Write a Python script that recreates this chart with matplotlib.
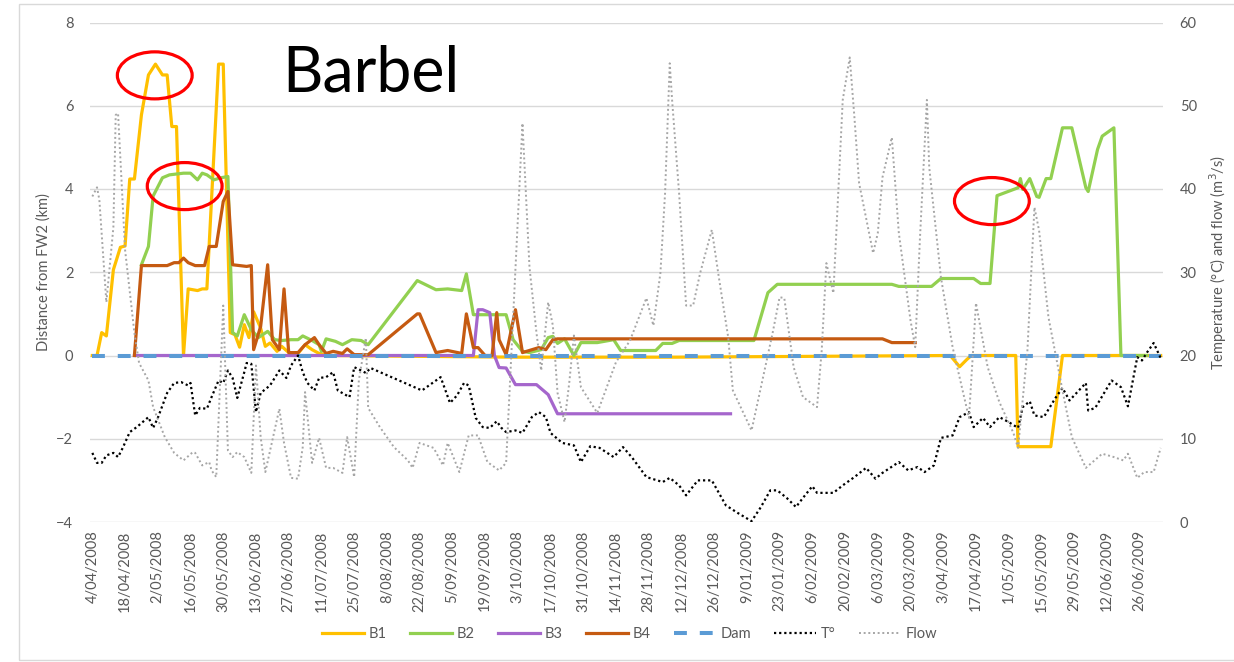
import datetime as dt
import matplotlib
matplotlib.use("Agg")
import matplotlib.pyplot as plt
from matplotlib.patches import Ellipse, Rectangle

plt.rcParams['font.family'] = ['Lato', 'DejaVu Sans']

start = dt.date(2008, 4, 4)  # day 0

# distance from FW2 (km), x = days since 4/04/2008
b1_day = [0, 2, 4, 6, 9, 12, 14, 16, 18, 21, 24, 27, 30, 32, 34, 36, 39, 41, 45, 47, 49,
          54, 56, 59, 61, 63, 65, 67, 69, 72, 74, 76, 79, 81, 84, 88, 91, 94, 97, 102,
          180, 250, 367, 371, 374, 376, 395, 396, 410, 415, 457]
b1_km = [0, 0, 0.55, 0.47, 2.06, 2.6, 2.63, 4.24, 4.24, 5.78, 6.74, 7.0, 6.74, 6.74, 5.5, 5.5, 0, 1.6, 1.56, 1.6, 1.6,
         7.0, 7.0, 0.55, 0.5, 0.2, 0.74, 0.43, 1.05, 0.66, 0.22, 0.3, 0.1, 0.22, 0.07, 0.05, 0.26, 0.14, 0.05, 0,
         -0.04, -0.04, 0, -0.27, -0.1, 0, 0, -2.19, -2.19, 0, 0]

b2_day = [21, 24, 26, 30, 33, 39, 42, 45, 47, 49, 52, 55, 58, 60, 62, 65, 68, 71, 75, 78, 81, 85, 88, 90,
          94, 97, 98, 100, 104, 107, 111, 115, 118, 139, 147, 152, 158, 160, 163, 168, 177, 180, 184,
          187, 192, 195, 197, 199, 202, 206, 209, 216, 223, 226, 241, 244, 248, 251, 283, 289, 293, 342,
          345, 359, 363, 377, 380, 384, 387, 396, 397, 398, 401, 404, 405, 408, 410, 415, 419, 425, 426,
          430, 432, 437, 440, 451]
b2_km = [2.18, 2.62, 3.83, 4.27, 4.34, 4.38, 4.38, 4.22, 4.38, 4.34, 4.22, 4.27, 4.3, 0.55, 0.47, 0.98, 0.62, 0.43,
         0.58, 0.38, 0.36, 0.38, 0.38, 0.47, 0.36, 0.26, 0.1, 0.4, 0.34, 0.26, 0.38, 0.36, 0.26, 1.8, 1.58, 1.6,
         1.56, 1.96, 0.98, 0.98, 0.98, 0.38, 0.1, 0.07, 0.14, 0.43, 0.46, 0.29, 0.4, 0, 0.31, 0.31, 0.38, 0.12,
         0.12, 0.29, 0.29, 0.36, 0.36, 1.51, 1.71, 1.71, 1.66, 1.66, 1.85, 1.85, 1.73, 1.73, 3.84, 4.03, 4.25,
         3.99, 4.25, 3.82, 3.8, 4.25, 4.25, 5.47, 5.47, 4.03, 3.94, 4.95, 5.27, 5.47, 0, 0]

b3_day = [18, 163, 165, 167, 170, 172, 174, 177, 181, 190, 195, 199, 273]
b3_km = [0, 0, 1.1, 1.1, 1.03, 0, -0.29, -0.3, -0.7, -0.7, -0.94, -1.4, -1.4]

b4_day = [18, 21, 32, 35, 37, 39, 41, 44, 48, 50, 53, 56, 58, 60, 66, 68, 69, 72, 75, 77, 80, 82, 84, 88,
          91, 95, 97, 100, 103, 107, 109, 112, 118, 139, 140, 147, 152, 158, 160, 163, 165, 168, 171,
          173, 174, 177, 181, 184, 191, 194, 197, 199, 338, 342, 352]
b4_km = [0, 2.16, 2.16, 2.23, 2.23, 2.34, 2.23, 2.16, 2.16, 2.62, 2.62, 3.7, 3.94, 2.18, 2.14, 2.16, 0.14, 0.7,
         2.18, 0.38, 0.14, 1.6, 0.07, 0.07, 0.26, 0.43, 0.26, 0.05, 0.1, 0.05, 0.16, 0.02, 0.02, 1.0, 1.0,
         0.07, 0.12, 0.05, 1.0, 0.19, 0.19, 0, 0, 1.03, 0.38, 0.02, 1.1, 0.07, 0.19, 0.14, 0.38, 0.4, 0.4,
         0.31, 0.31]

dam_day = [0, 457]
dam_km = [0, 0]

# temperature (°C) and flow (m3/s)
t_day = [0, 2, 4, 6, 9, 11, 13, 16, 19, 24, 26, 28, 32, 35, 38, 41, 42, 44, 46, 49, 51, 54, 56, 58, 60,
         62, 65, 66, 68, 70, 72, 76, 80, 83, 85, 88, 90, 92, 95, 97, 100, 103, 105, 110, 112, 115, 117,
         119, 141, 149, 153, 156, 159, 161, 164, 167, 170, 173, 175, 177, 181, 184, 188, 191, 194, 196,
         201, 206, 209, 213, 217, 223, 227, 231, 237, 244, 247, 251, 254, 259, 265, 271, 276, 282, 286,
         290, 293, 297, 301, 304, 308, 310, 317, 321, 326, 331, 335, 338, 345, 349, 353, 356, 360, 363,
         368, 371, 375, 377, 381, 384, 388, 392, 396, 398, 401, 403, 407, 412, 415, 418, 421, 425, 426,
         429, 436, 440, 443, 447, 449, 451, 454, 457]
t_val = [8.3, 7.1, 7.1, 8.0, 8.3, 7.8, 8.9, 10.8, 11.4, 12.6, 11.3, 12.5, 15.5, 16.7, 16.8, 16.4, 16.7, 12.8,
         13.7, 13.6, 15.0, 17.0, 16.7, 18.2, 17.3, 14.9, 18.0, 19.1, 19.0, 13.2, 15.5, 16.4, 18.2, 17.3, 18.8,
         20.0, 18.0, 16.7, 15.8, 17.3, 17.4, 18.0, 15.8, 15.0, 18.6, 18.2, 17.9, 18.5, 15.8, 17.4, 14.3, 15.2,
         16.7, 16.4, 12.5, 11.4, 11.3, 12.1, 11.3, 10.8, 11.0, 10.7, 12.6, 13.2, 12.6, 10.7, 9.5, 9.2, 7.2,
         9.1, 8.9, 7.8, 9.0, 7.7, 5.4, 4.8, 5.3, 4.4, 3.2, 5.0, 5.0, 2.0, 1.1, 0.1, 1.8, 3.8, 3.8, 2.9, 1.8,
         2.9, 4.3, 3.5, 3.5, 4.4, 5.4, 6.5, 5.2, 5.9, 7.2, 6.2, 6.6, 6.0, 6.8, 10.1, 10.4, 12.6, 13.2, 11.4,
         12.5, 11.4, 12.6, 12.0, 11.3, 13.8, 14.5, 12.8, 12.6, 14.9, 16.1, 14.6, 15.5, 16.7, 13.4, 13.7,
         17.0, 16.2, 13.9, 19.8, 19.4, 20.3, 21.5, 19.7]

flow_day = [0, 2, 3, 6, 9, 10, 11, 14, 18, 20, 24, 26, 31, 35, 39, 43, 44, 47, 50, 51, 53, 56, 58, 60, 62,
            65, 68, 70, 72, 74, 77, 80, 82, 85, 88, 90, 91, 94, 97, 100, 103, 107, 109, 112, 114, 117, 118,
            123, 129, 135, 137, 140, 146, 150, 152, 157, 161, 165, 169, 174, 177, 184, 187, 190, 192, 195,
            197, 199, 202, 204, 206, 209, 216, 224, 230, 237, 240, 243, 245, 247, 248, 251, 254, 257, 260,
            265, 268, 272, 274, 282, 291, 294, 296, 300, 304, 310, 312, 314, 317, 321, 324, 326, 328, 334,
            336, 338, 342, 345, 350, 352, 354, 357, 358, 363, 368, 375, 378, 383, 388, 394, 396, 400, 403,
            405, 409, 415, 419, 425, 432, 437, 441, 443, 447, 450, 454, 457]
flow_val = [39.1, 40.2, 38.7, 26.4, 35.4, 48.9, 49.1, 32.7, 22.7, 19.1, 17.0, 13.8, 10.2, 8.3, 7.4, 8.4, 8.3,
            6.8, 7.2, 6.2, 5.4, 26.0, 8.6, 7.8, 8.4, 7.8, 5.9, 18.8, 10.2, 6.0, 9.8, 13.6, 9.5, 5.3, 5.2, 9.0,
            15.6, 7.1, 10.1, 6.5, 6.5, 5.9, 10.2, 5.4, 17.0, 22.1, 13.7, 11.4, 9.0, 7.4, 6.5, 9.5, 8.9, 6.8,
            9.5, 6.0, 10.4, 10.4, 7.2, 6.2, 7.1, 47.9, 30.6, 22.7, 18.2, 26.4, 23.6, 15.5, 12.0, 16.7, 22.4,
            16.2, 13.1, 19.2, 21.8, 26.9, 23.6, 29.9, 39.5, 55.1, 50.7, 39.5, 26.0, 26.0, 29.9, 35.1, 29.4,
            22.2, 15.8, 11.0, 22.7, 27.0, 26.9, 18.6, 15.0, 13.8, 20.6, 31.1, 27.5, 50.7, 55.8, 48.6, 40.7,
            32.3, 34.7, 41.4, 46.2, 34.7, 24.2, 21.0, 33.9, 50.7, 42.6, 29.4, 21.0, 12.5, 26.3, 18.6, 14.4,
            10.7, 8.9, 20.6, 37.8, 35.0, 24.6, 15.8, 10.2, 6.5, 8.2, 7.8, 7.4, 8.2, 5.3, 6.0, 6.0, 8.9]

tick_days = list(range(0, 449, 14))
tick_labels = []
for d in tick_days:
    day = start + dt.timedelta(days=d)
    tick_labels.append(f"{day.day}/{day.month:02d}/{day.year}")

fig = plt.figure(figsize=(12.34, 6.62), dpi=100)
ax = fig.add_axes([90 / 1234, 1 - 522 / 662, 1073 / 1234, 499.5 / 662])
ax2 = ax.twinx()

fig.patches.append(Rectangle((19 / 1234, 2 / 662), 1.2, 1 - 6 / 662, transform=fig.transFigure,
                             fill=False, edgecolor='#D9D9D9', lw=1))

l1, = ax.plot(b1_day, b1_km, color='#FFC000', lw=2.3, label='B1')
l2, = ax.plot(b2_day, b2_km, color='#92D050', lw=2.3, label='B2')
l3, = ax.plot(b3_day, b3_km, color='#A566CC', lw=2.3, label='B3')
l4, = ax.plot(b4_day, b4_km, color='#C55A11', lw=2.3, label='B4')
l5, = ax.plot(dam_day, dam_km, color='#5B9BD5', lw=2.9, dashes=(3.2, 3.2), label='Dam')
l6, = ax2.plot(t_day, t_val, color='black', lw=1.6, linestyle=(0, (1, 1.3)), label='T°')
l7, = ax2.plot(flow_day, flow_val, color='#A6A6A6', lw=1.4, linestyle=(0, (1, 1.4)), label='Flow')

for xy in [(26.7, 6.73), (39.5, 4.07), (384.8, 3.71)]:
    ax.add_patch(Ellipse(xy, 32, 1.13, fill=False, edgecolor='#FF0000', lw=2.3, zorder=5))

ax.set_xlim(-1, 458)
ax.set_ylim(-4, 8)
ax2.set_ylim(0, 60)
ax.set_yticks(range(-4, 9, 2))
ax2.set_yticks(range(0, 61, 10))
ax.set_xticks(tick_days)
ax.set_xticklabels(tick_labels, rotation=90)
ax.grid(axis='y', color='#D9D9D9', lw=1)
ax.set_axisbelow(True)

for a in (ax, ax2):
    for s in a.spines.values():
        s.set_visible(False)
    a.tick_params(length=0, labelcolor='#595959', labelsize=10.5)
ax.tick_params(axis='y', pad=12)
ax2.tick_params(axis='y', pad=12)
ax.tick_params(axis='x', pad=6)

ax.set_ylabel('Distance from FW2 (km)', color='#595959', fontsize=10.5)
ax.yaxis.set_label_coords(-0.037, 0.5)
ax2.set_ylabel('Temperature (°C) and flow (m$^3$/s)', color='#595959', fontsize=10.5)
ax2.yaxis.set_label_coords(1.041, 0.52)

fig.text(282 / 1234, 1 - 92 / 662, 'Barbel', fontsize=45, fontweight='normal',
         va='baseline', ha='left', color='black')

fig.legend(handles=[l1, l2, l3, l4, l5, l6, l7], loc='center', bbox_to_anchor=(0.51, 1 - 634 / 662),
           ncol=7, frameon=False, fontsize=10.5, labelcolor='#595959', handlelength=2.9,
           columnspacing=1.6, handletextpad=0.3)

fig.savefig('out.png', dpi=100)
